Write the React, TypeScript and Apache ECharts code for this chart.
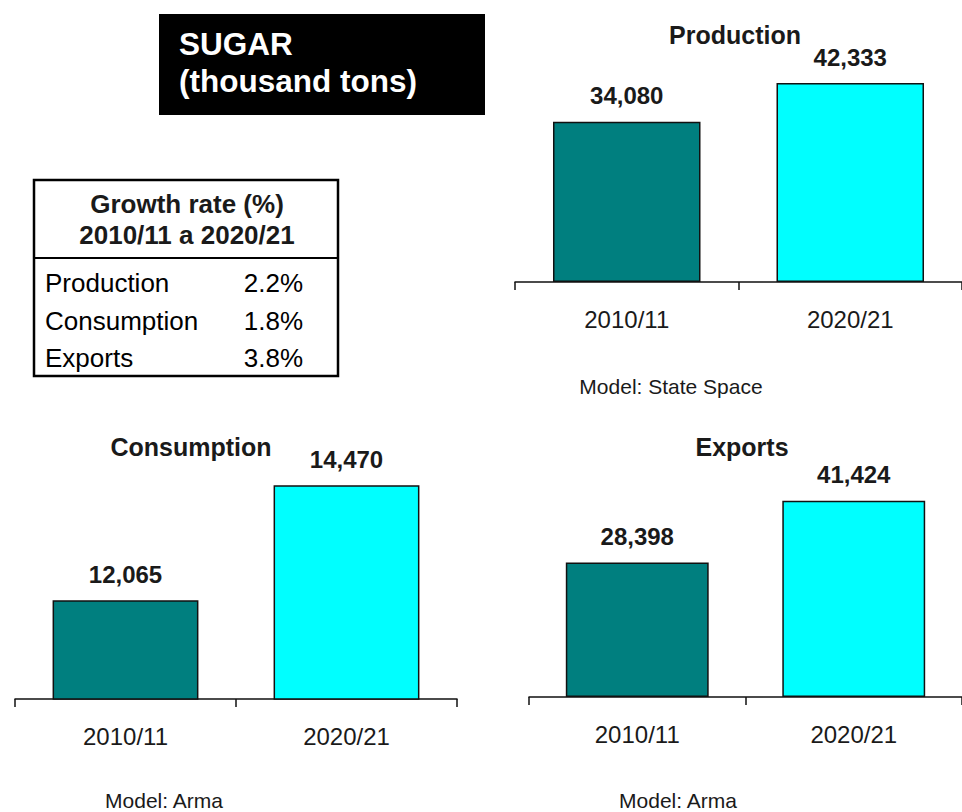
import React, { useEffect, useRef } from "react";
import * as echarts from "echarts";

const categories = ["2010/11", "2020/21"];
const production = [34080, 42333];
const consumption = [12065, 14470];
const exportsData = [28398, 41424];
const barColors = ["#007F7F", "#00FFFF"];
const growthLabels = ["Production", "Consumption", "Exports"];
const growthRates = ["2.2%", "1.8%", "3.8%"];
const growthHeader = ["Growth rate (%)", "2010/11 a 2020/21"];

const FONT = '"Liberation Sans", Arial, Helvetica, sans-serif';
const TXT = "#1a1a1a";

function fmt(v: number) {
  return v.toLocaleString("en-US");
}

export default function App() {
  const ref = useRef<HTMLDivElement>(null);
  useEffect(() => {
    if (!ref.current) return;
    const chart = echarts.init(ref.current, undefined, { renderer: "svg" });

    const grids = [
      { left: 515, width: 452, top: 47, height: 235 },
      { left: 15, width: 442, top: 460, height: 239 },
      { left: 529, width: 436, top: 460, height: 237 },
    ];
    const yRanges = [
      { min: 0, max: 50000 },
      { min: 10000, max: 15000 },
      { min: 0, max: 50000 },
    ];
    const seriesData = [production, consumption, exportsData];

    const xAxis = grids.map((_, i) => ({
      type: "category",
      gridIndex: i,
      data: categories,
      axisLine: { show: true, lineStyle: { color: "#111", width: 1.5 } },
      axisTick: { show: true, length: 8, lineStyle: { color: "#111", width: 1.5 } },
      axisLabel: {
        margin: 25,
        fontSize: 24,
        fontFamily: FONT,
        color: TXT,
      },
    }));
    const yAxis = grids.map((_, i) => ({
      type: "value",
      gridIndex: i,
      min: yRanges[i].min,
      max: yRanges[i].max,
      show: false,
      splitLine: { show: false },
    }));
    const series = seriesData.map((arr, i) => ({
      type: "bar",
      xAxisIndex: i,
      yAxisIndex: i,
      barWidth: "66%",
      data: arr.map((v, j) => ({
        value: v,
        itemStyle: { color: barColors[j], borderColor: "#111", borderWidth: 1.5 },
      })),
      label: {
        show: true,
        position: "top",
        distance: 14,
        formatter: (p: any) => fmt(p.value),
        fontSize: 24,
        fontWeight: "bold",
        fontFamily: FONT,
        color: TXT,
      },
    }));

    const txt = (
      text: string,
      x: number,
      y: number,
      size: number,
      bold: boolean,
      align: string = "center",
      fill: string = TXT
    ) => ({
      type: "text",
      x,
      y,
      style: {
        text,
        fill,
        font: `${bold ? "bold " : ""}${size}px ${FONT}`,
        textAlign: align,
        textVerticalAlign: "middle",
      },
    });

    const graphic: any[] = [
      { type: "rect", shape: { x: 159, y: 14, width: 326, height: 101 }, style: { fill: "#000" } },
      txt("SUGAR", 179, 44, 31.5, true, "left", "#fff"),
      txt("(thousand tons)", 179, 81, 31.5, true, "left", "#fff"),
      {
        type: "rect",
        shape: { x: 34, y: 180, width: 304, height: 196 },
        style: { fill: "#fff", stroke: "#000", lineWidth: 2.5 },
      },
      {
        type: "line",
        shape: { x1: 34, y1: 258, x2: 338, y2: 258 },
        style: { stroke: "#000", lineWidth: 2 },
      },
      txt(growthHeader[0], 187, 204, 26, true),
      txt(growthHeader[1], 187, 235, 26, true),
      txt("Production", 735, 35, 25, true),
      txt("Model: State Space", 671, 386, 21, false),
      txt("Consumption", 191, 447, 25, true),
      txt("Model: Arma", 164, 800, 21, false),
      txt("Exports", 742, 447, 25, true),
      txt("Model: Arma", 678, 800, 21, false),
    ];
    const rowY = [283, 321, 358];
    growthLabels.forEach((l, i) => {
      graphic.push(txt(l, 45, rowY[i], 26, false, "left", "#000"));
      graphic.push(txt(growthRates[i], 303, rowY[i], 26, false, "right", "#000"));
    });

    chart.setOption({
      animation: false,
      backgroundColor: "#fff",
      grid: grids.map((g) => ({ ...g, containLabel: false })),
      xAxis,
      yAxis,
      series,
      graphic,
    } as any);
    return () => chart.dispose();
  }, []);
  return (
    <div
      ref={ref}
      style={{ position: "absolute", left: 0, top: 0, width: 962, height: 812 }}
    />
  );
}
